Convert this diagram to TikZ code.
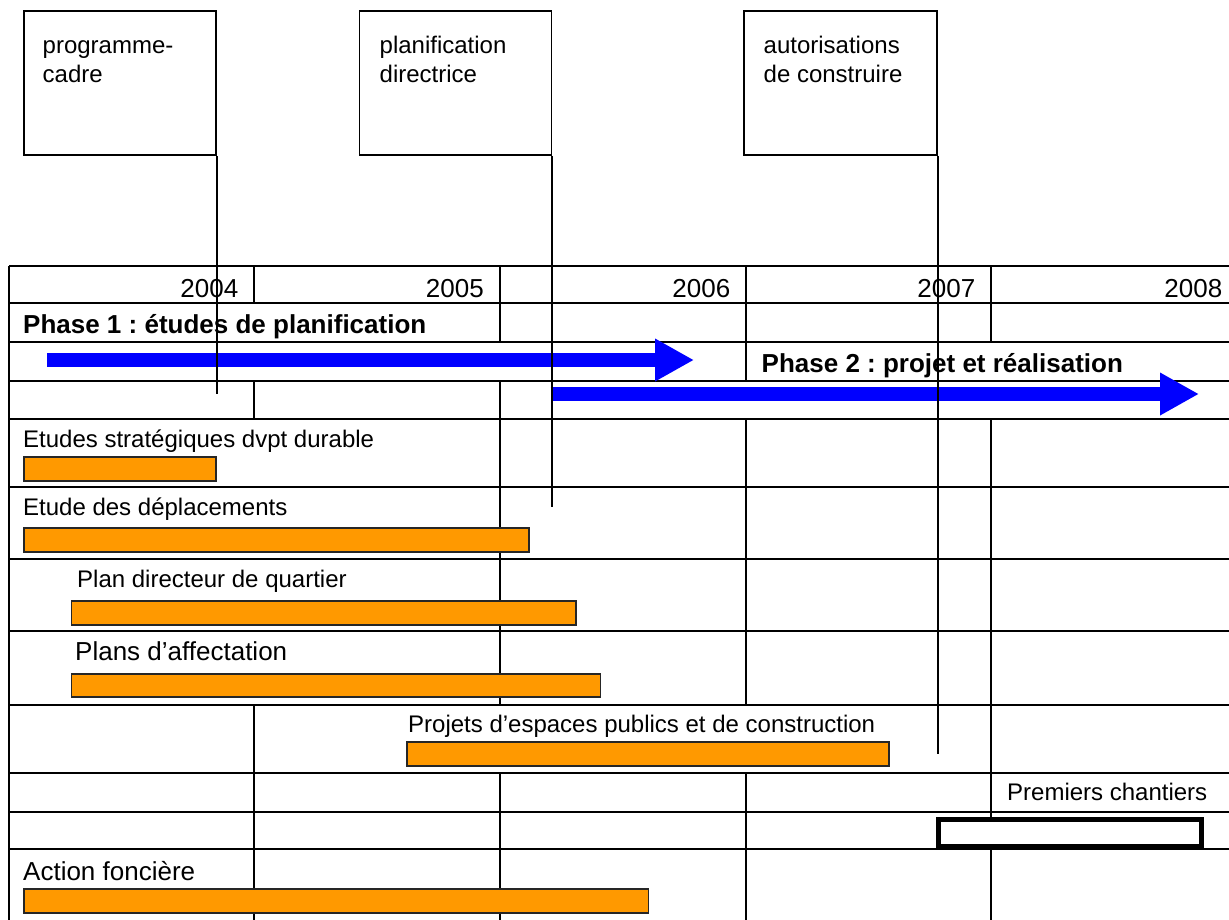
\documentclass[tikz,border=0pt]{standalone}
\usepackage{fontspec}
\setmainfont{Liberation Sans}
\usetikzlibrary{arrows.meta}
\definecolor{barorange}{RGB}{255,153,0}
\definecolor{phaseblue}{RGB}{0,0,255}
\frenchspacing

\begin{document}
\begin{tikzpicture}[x=1pt,y=-1pt,
    lbl/.style={anchor=base west,inner sep=0pt,font=\fontsize{24}{29}\selectfont},
    biglbl/.style={anchor=base west,inner sep=0pt,font=\fontsize{26}{31}\selectfont},
    year/.style={anchor=base east,inner sep=0pt,font=\fontsize{26}{31}\selectfont},
    phase/.style={anchor=base west,inner sep=0pt,font=\fontsize{26}{31}\selectfont\bfseries},
    milebox/.style={draw,line width=1.8pt,anchor=north west,minimum width=192pt,minimum height=144pt,inner sep=0pt},
    bar/.style={draw=black!85,line width=1.8pt,fill=barorange,anchor=north west,inner sep=0pt,minimum height=24pt},
    gridline/.style={line width=1.8pt},
    phasearrow/.style={phaseblue,line width=13.5pt,-{Triangle[length=39pt,width=40pt]}}]
    \useasboundingbox (0,0) rectangle (1229,919);
    \clip (0,0) rectangle (1229,919);

    % table rows
    \draw[gridline] (9,265.7) -- (1240,265.7);
    \draw[gridline] (9,303.3) -- (1240,303.3);
    \draw[gridline] (9,341.7) -- (1240,341.7);
    \draw[gridline] (9,380.7) -- (1240,380.7);
    \draw[gridline] (9,418.7) -- (1240,418.7);
    \draw[gridline] (9,486.7) -- (1240,486.7);
    \draw[gridline] (9,558.7) -- (1240,558.7);
    \draw[gridline] (9,631) -- (1240,631);
    \draw[gridline] (9,705) -- (1240,705);
    \draw[gridline] (9,773.3) -- (1240,773.3);
    \draw[gridline] (9,811.7) -- (1240,811.7);
    \draw[gridline] (9,849.3) -- (1240,849.3);
    % table columns
    \draw[gridline] (9,265.7) -- (9,925);
    \draw[gridline] (254,265.7) -- (254,303.3) (254,380.7) -- (254,418.7) (254,705) -- (254,925);
    \draw[gridline] (500,265.7) -- (500,341.7) (500,380.7) -- (500,705) (500,773.3) -- (500,925);
    \draw[gridline] (746,265.7) -- (746,380.7) (746,418.7) -- (746,705) (746,773.3) -- (746,925);
    \draw[gridline] (991,265.7) -- (991,341.7) (991,418.7) -- (991,925);

    % years
    \node[year] (y2004) at (238.5,297) {2004};
    \node[year] (y2005) at (484,297) {2005};
    \node[year] (y2006) at (730.5,297) {2006};
    \node[year] (y2007) at (975.5,297) {2007};
    \node[year] (y2008) at (1222.5,297) {2008};

    % phases
    \node[phase] (ph1) at (23,333) {Phase 1 : études de planification};
    \node[phase] (ph2) at (761.5,372) {Phase 2 : projet et réalisation};
    \coordinate (ph1start) at (47,360);
    \coordinate (ph1end) at (694,360);
    \coordinate (ph2start) at (550.5,394);
    \coordinate (ph2end) at (1199,394);
    \draw[phasearrow] (ph1start) -- (ph1end);
    \draw[phasearrow] (ph2start) -- (ph2end);

    % tasks
    \node[lbl] (strat) at (23,447) {Etudes stratégiques dvpt durable};
    \node[bar,minimum width=192pt] (stratbar) at (23,456) {};
    \node[lbl] (depl) at (23,515) {Etude des déplacements};
    \node[bar,minimum width=505pt] (deplbar) at (23,527) {};
    \node[lbl] (pdq) at (77,587) {Plan directeur de quartier};
    \node[bar,minimum width=504.5pt] (pdqbar) at (70.5,600) {};
    \node[biglbl] (paff) at (75,660) {Plans d’affectation};
    \node[bar,minimum width=529pt,minimum height=23pt] (paffbar) at (70.5,673) {};
    \node[lbl] (proj) at (408,732) {Projets d’espaces publics et de construction};
    \node[bar,minimum width=482pt] (projbar) at (406,741) {};
    \node[lbl] (chant) at (1007,800) {Premiers chantiers};
    \node[draw,line width=5pt,fill=white,anchor=north west,inner sep=0pt,
          minimum width=263.5pt,minimum height=27pt] (chantbar) at (935.5,816.5) {};
    \node[biglbl] (fonc) at (23,880) {Action foncière};
    \node[bar,minimum width=624.5pt] (foncbar) at (23,888) {};

    % milestones
    \node[milebox] (prog) at (23,10) {};
    \node[lbl] (prog1) at (42.5,53) {programme-};
    \node[lbl] (prog2) at (42.5,82) {cadre};
    \node[milebox] (plan) at (358.5,10) {};
    \node[lbl] (plan1) at (379.5,53) {planification};
    \node[lbl] (plan2) at (379.5,82) {directrice};
    \node[milebox,minimum width=193pt] (auto) at (742.8,10) {};
    \node[lbl] (auto1) at (763.5,53) {autorisations};
    \node[lbl] (auto2) at (763.5,82) {de construire};
    \coordinate (progend) at (prog.south east |- 0,394);
    \coordinate (planend) at (plan.south east |- 0,507);
    \coordinate (autoend) at (auto.south east |- 0,754);
    \draw[gridline] (prog.south east) -- (progend);
    \draw[gridline] (plan.south east) -- (planend);
    \draw[gridline] (auto.south east) -- (autoend);
\end{tikzpicture}
\end{document}
